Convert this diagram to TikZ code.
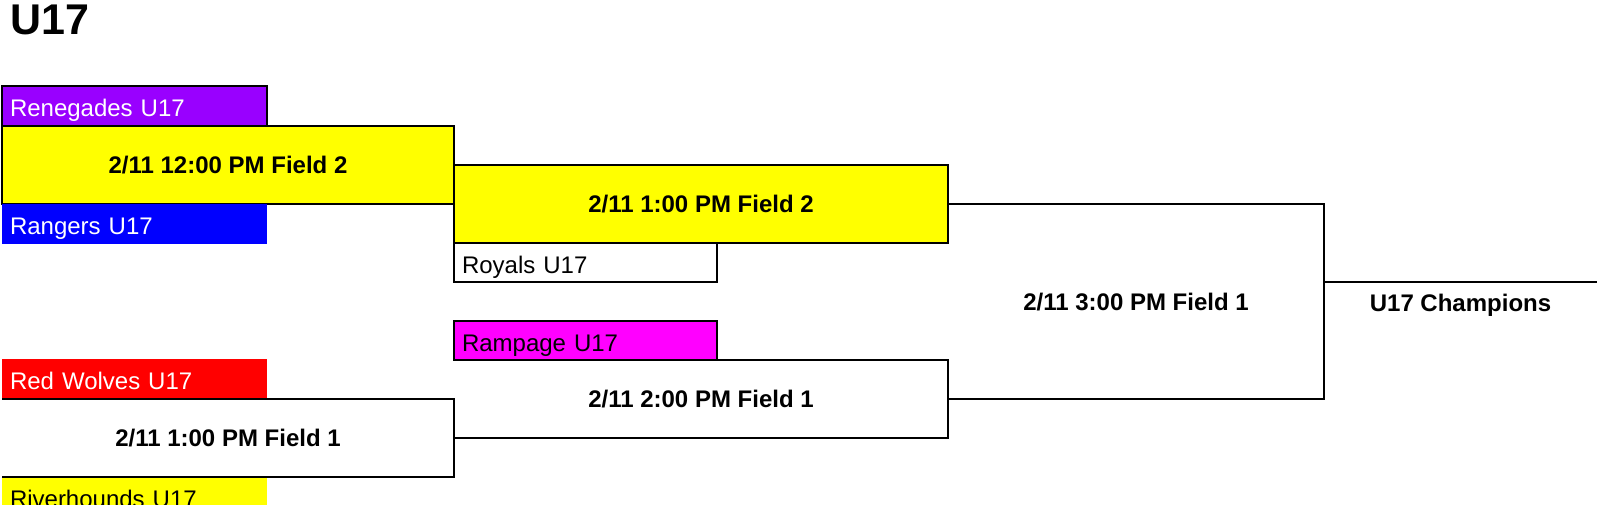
\documentclass[tikz,border=0pt]{standalone}
\usepackage{fontspec}
\setmainfont{Liberation Sans}
\usetikzlibrary{
    positioning,
}
\definecolor{TeamPurple}{HTML}{9900FF}
\definecolor{TeamBlue}{HTML}{0000FF}
\definecolor{TeamRed}{HTML}{FF0000}
\definecolor{TeamYellow}{HTML}{FFFF00}
\definecolor{TeamMagenta}{HTML}{FF00FF}
\newcommand{\bracketfont}{\fontsize{24}{28}\selectfont}
\tikzstyle{team}=[rectangle,outer sep=0pt,inner xsep=8pt,inner ysep=0pt,text width=249pt,minimum height=40pt,align=left,font=\bracketfont,text height=21.5pt,text depth=0pt]
\tikzstyle{game}=[rectangle,outer sep=0pt,inner sep=0pt,minimum height=78pt,font=\bfseries\bracketfont,text height=17.2pt,text depth=0pt]
\newcommand{\Team}[3][]{%
    \node[team,#1] (#2) {#3};
}
\newcommand{\Game}[3][]{%
    \node[game,#1] (#2) {#3};
}

\begin{document}
\begin{tikzpicture}[x=1pt,y=-1pt,line width=1.5pt]
    \useasboundingbox (0,0) rectangle (1600,505);

    \node[font=\bfseries\fontsize{43}{48}\selectfont,anchor=base west,inner sep=0pt] (title) at (10,35) {U17};

    % Round 1, top
    \Team[draw,fill=TeamPurple,text=white,anchor=north west,at={(2,86)}]{ren}{Renegades U17};
    \Game[draw,fill=TeamYellow,minimum width=452pt,below=0pt of ren.south west,anchor=north west]{g1}{2/11 12:00 PM Field 2};
    \Team[fill=TeamBlue,text=white,below=0pt of g1.south west,anchor=north west]{ran}{Rangers U17};

    % Round 1, bottom
    \Team[fill=TeamRed,text=white,anchor=north west,at={(2,359)}]{red}{Red Wolves U17};
    \Game[minimum width=452pt,below=0pt of red.south west,anchor=north west]{g4}{2/11 1:00 PM Field 1};
    \Team[fill=TeamYellow,below=0pt of g4.south west,anchor=north west]{riv}{Riverhounds U17};

    % Round 2
    \Game[draw,fill=TeamYellow,minimum width=494pt,anchor=north west,at={(g1.east)}]{g2}{2/11 1:00 PM Field 2};
    \Team[draw,text width=247pt,minimum height=39pt,below=0pt of g2.south west,anchor=north west]{roy}{Royals U17};
    \Team[draw,fill=TeamMagenta,text width=247pt,minimum height=39pt,below=39pt of roy.south west,anchor=north west]{ram}{Rampage U17};
    \Game[minimum width=494pt,below=0pt of ram.south west,anchor=north west]{g3}{2/11 2:00 PM Field 1};

    % Final
    \Game[minimum width=376pt,minimum height=195pt,anchor=north west,at={(g2.east)}]{g5}{2/11 3:00 PM Field 1};
    \coordinate (cup) at ([yshift=19.5pt]g5.east);
    \node[game,minimum width=273pt,minimum height=42pt,anchor=north west] (champ) at (cup) {U17 Champions};

    \draw (g4.north west) -- (g4.north east) -- (g4.south east) -- (g4.south west);
    \draw (ram.south east) -- (g3.north east) -- (g3.south east) -- (g3.south west);
    \draw (g2.east) -- (g5.north east) -- (g5.south east) -- (g3.east);
    \draw (cup) -- (champ.north east);
\end{tikzpicture}
\end{document}
